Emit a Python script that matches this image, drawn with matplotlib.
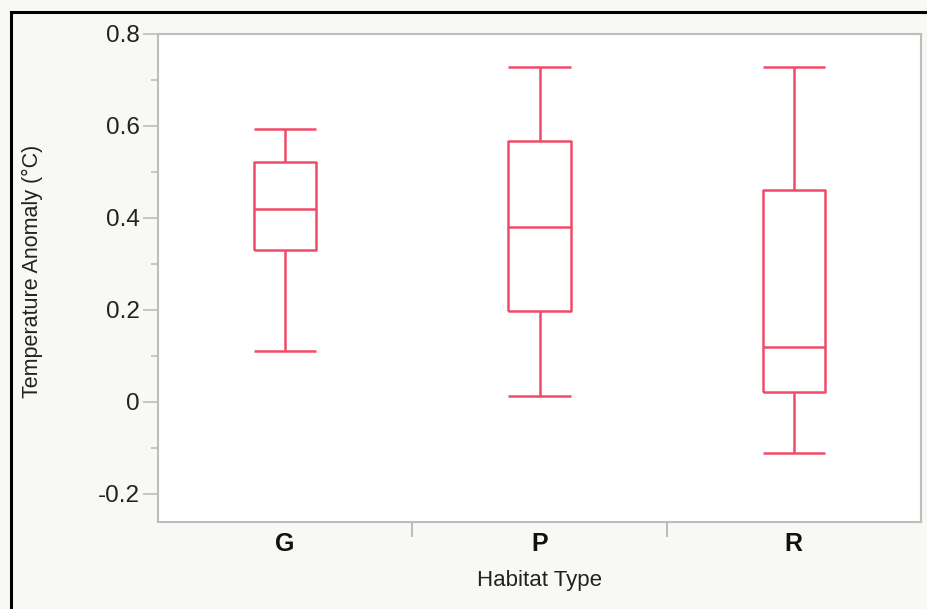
import matplotlib
matplotlib.use("Agg")
import matplotlib.pyplot as plt
from matplotlib.patches import Rectangle
from matplotlib.ticker import MultipleLocator, FixedLocator, NullFormatter

categories = ["G", "P", "R"]
whisker_low = [0.11, 0.013, -0.111]
q1 = [0.33, 0.198, 0.022]
median = [0.42, 0.38, 0.12]
q3 = [0.522, 0.567, 0.461]
whisker_high = [0.593, 0.728, 0.728]
yticks = [-0.2, 0, 0.2, 0.4, 0.6, 0.8]
ytick_labels = ["-0.2", "0", "0.2", "0.4", "0.6", "0.8"]

plt.rcParams['font.family'] = ['Liberation Sans', 'DejaVu Sans']

bg = '#f8f8f4'
red = '#f04a68'
gray = '#bdbdbd'

fig = plt.figure(figsize=(9.27, 6.09), dpi=100, facecolor=bg)
W, H = 927, 609
ax = fig.add_axes([158 / W, 1 - 522 / H, (921 - 158) / W, (522 - 34) / H])
ax.set_facecolor('white')

stats = []
for i, c in enumerate(categories):
    stats.append(dict(label=c, whislo=whisker_low[i], q1=q1[i], med=median[i],
                      q3=q3[i], whishi=whisker_high[i], fliers=[]))

lp = dict(color=red, linewidth=1.8, solid_capstyle='butt')
ax.bxp(stats, positions=range(len(categories)), widths=0.245, showfliers=False,
       boxprops=lp, medianprops=lp, whiskerprops=lp, capprops=lp,
       capwidths=0.245)

ax.set_xlim(-0.5, len(categories) - 0.5)
ax.set_ylim(-0.261, 0.8)

for s in ax.spines.values():
    s.set_color(gray)
    s.set_linewidth(1.5)

ax.yaxis.set_major_locator(FixedLocator(yticks))
ax.set_yticklabels(ytick_labels)
ax.yaxis.set_minor_locator(MultipleLocator(0.1))
ax.tick_params(axis='y', which='major', length=11, width=1.2, color=gray,
               labelsize=17.5, labelcolor='#222222', pad=2)
ax.tick_params(axis='y', which='minor', length=5, width=1.2, color=gray)

ax.set_xticks(range(len(categories)))
ax.set_xticklabels(categories, fontweight='bold', fontsize=18)
ax.tick_params(axis='x', which='major', length=0, pad=7, labelcolor='#111111')
ax.xaxis.set_minor_locator(FixedLocator([i + 0.5 for i in range(len(categories) - 1)]))
ax.xaxis.set_minor_formatter(NullFormatter())
ax.tick_params(axis='x', which='minor', length=11, width=1.5, color=gray)

ax.set_xlabel("Habitat Type", fontsize=16, color='#222222', labelpad=10)
ax.set_ylabel("Temperature Anomaly (°C)", fontsize=15.5, color='#222222', labelpad=10)
ax.yaxis.set_label_coords(-115 / (921 - 158), (522 - 271) / (522 - 34))

fig.patches.append(Rectangle((10.5 / W, -0.1), 1.2, 1 - 12 / H + 0.1,
                             transform=fig.transFigure, fill=False,
                             edgecolor='black', linewidth=2.2))

fig.savefig("out.png", dpi=100, facecolor=bg)
